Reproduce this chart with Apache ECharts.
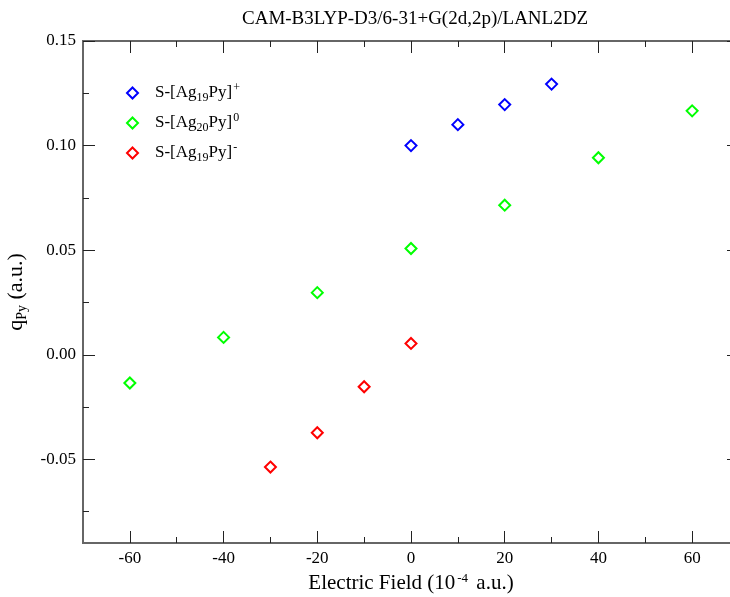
<!DOCTYPE html>
<html>
<head>
<meta charset="utf-8">
<script src="https://cdn.jsdelivr.net/npm/echarts@6/dist/echarts.min.js"></script>
<style>
  html, body { margin: 0; padding: 0; background: #fff; }
  #chart { width: 730px; height: 597px; }
</style>
</head>
<body>
<div id="chart"></div>
<script>
// S-[Ag19Py]+
const fieldPlus = [0, 10, 20, 30];
const qPlus = [0.100, 0.110, 0.1196, 0.1294];
// S-[Ag20Py]0
const fieldNeutral = [-60, -40, -20, 0, 20, 40, 60];
const qNeutral = [-0.0135, 0.0083, 0.0297, 0.0508, 0.0715, 0.0942, 0.1166];
// S-[Ag19Py]-
const fieldMinus = [-30, -20, -10, 0];
const qMinus = [-0.0537, -0.0373, -0.0153, 0.0054];

const xMajor = [-60, -40, -20, 0, 20, 40, 60];
const xMinor = [-50, -30, -10, 10, 30, 50];
const yMajor = [-0.05, 0, 0.05, 0.10, 0.15];
const yMinor = [-0.075, -0.025, 0.025, 0.075, 0.125];

const font = 'Liberation Serif';
const lineCol = '#666';
const tickCol = '#222';

function zip(xs, ys) { return xs.map((x, i) => [x, ys[i]]); }

function xAx(pos, ticks, len, labels) {
  return {
    type: 'value', position: pos, min: -70, max: 70, interval: 10,
    axisLine: { show: true, onZero: false, lineStyle: { color: lineCol, width: 2 } },
    axisTick: { show: true, inside: true, length: len, customValues: ticks, lineStyle: { color: tickCol, width: 1 } },
    axisLabel: labels ? { show: true, customValues: ticks, fontFamily: font, fontSize: 17, color: '#000', margin: 7 } : { show: false },
    splitLine: { show: false }
  };
}
function yAx(pos, ticks, len, labels) {
  return {
    type: 'value', position: pos, min: -0.09, max: 0.15, interval: 0.01,
    axisLine: { show: true, onZero: false, lineStyle: { color: lineCol, width: 2 } },
    axisTick: { show: true, inside: true, length: len, customValues: ticks, lineStyle: { color: tickCol, width: 1 } },
    axisLabel: labels ? { show: true, customValues: ticks, fontFamily: font, fontSize: 17, color: '#000', margin: 7,
      formatter: v => v.toFixed(2) } : { show: false },
    splitLine: { show: false }
  };
}

const names = [
  '{n|S-[Ag}{b|19}{n|Py]}{p|+}',
  '{n|S-[Ag}{b|20}{n|Py]}{p|0}',
  '{n|S-[Ag}{b|19}{n|Py]}{p|-}'
];
const colors = ['#0000ff', '#00ff00', '#ff0000'];
const datas = [zip(fieldPlus, qPlus), zip(fieldNeutral, qNeutral), zip(fieldMinus, qMinus)];

const chart = echarts.init(document.getElementById('chart'));

const xs = [xAx('bottom', xMajor, 12, true), xAx('bottom', xMinor, 6, false),
            xAx('top', xMajor, 12, false), xAx('top', xMinor, 6, false)];
xs[0].name = '{a|Electric Field (10}{s|-4}{a| a.u.)}';
xs[0].nameLocation = 'middle';
xs[0].nameGap = 27;
xs[0].nameTextStyle = {
  rich: {
    a: { fontFamily: font, fontSize: 21, color: '#000', lineHeight: 24 },
    s: { fontFamily: font, fontSize: 13, color: '#000', verticalAlign: 'top', lineHeight: 24, padding: [0, 3, 8, 2] }
  }
};
const ys = [yAx('left', yMajor, 12, true), yAx('left', yMinor, 6, false),
            yAx('right', yMajor, 12, false), yAx('right', yMinor, 6, false)];
ys[0].name = '{a|q}{b|Py}{a| (a.u.)}';
ys[0].nameLocation = 'middle';
ys[0].nameGap = 46;
ys[0].nameTextStyle = {
  rich: {
    a: { fontFamily: font, fontSize: 22, color: '#000', lineHeight: 26 },
    b: { fontFamily: font, fontSize: 14, color: '#000', verticalAlign: 'bottom', lineHeight: 26, padding: [8, 0, 0, 0] }
  }
};

const option = {
  animation: false,
  backgroundColor: '#fff',
  title: {
    text: 'CAM-B3LYP-D3/6-31+G(2d,2p)/LANL2DZ',
    left: 410, top: 5, textAlign: 'center',
    textStyle: { fontFamily: font, fontSize: 19, fontWeight: 'normal', color: '#000' }
  },
  legend: {
    orient: 'vertical', left: 121, top: 77,
    itemWidth: 11, itemHeight: 11, itemGap: 8,
    data: names,
    formatter: n => n,
    textStyle: {
      padding: [0, 0, 0, 12],
      rich: {
        n: { fontFamily: font, fontSize: 17, color: '#000', lineHeight: 22 },
        b: { fontFamily: font, fontSize: 12, color: '#000', verticalAlign: 'bottom', lineHeight: 22, padding: [8, 0, 0, 0] },
        p: { fontFamily: font, fontSize: 12, color: '#000', verticalAlign: 'top', lineHeight: 22, padding: [0, 0, 9, 1] }
      }
    }
  },
  grid: { left: 83, top: 41, width: 656, height: 502, containLabel: false, outerBoundsMode: 'none' },
  xAxis: xs,
  yAxis: ys,
  series: names.map((n, i) => ({
    name: n, type: 'scatter', xAxisIndex: 0, yAxisIndex: 0,
    symbol: 'diamond', symbolSize: 11,
    itemStyle: { color: '#fff', borderColor: colors[i], borderWidth: 2, opacity: 1 },
    data: datas[i]
  }))
};
chart.setOption(option);
</script>
</body>
</html>
